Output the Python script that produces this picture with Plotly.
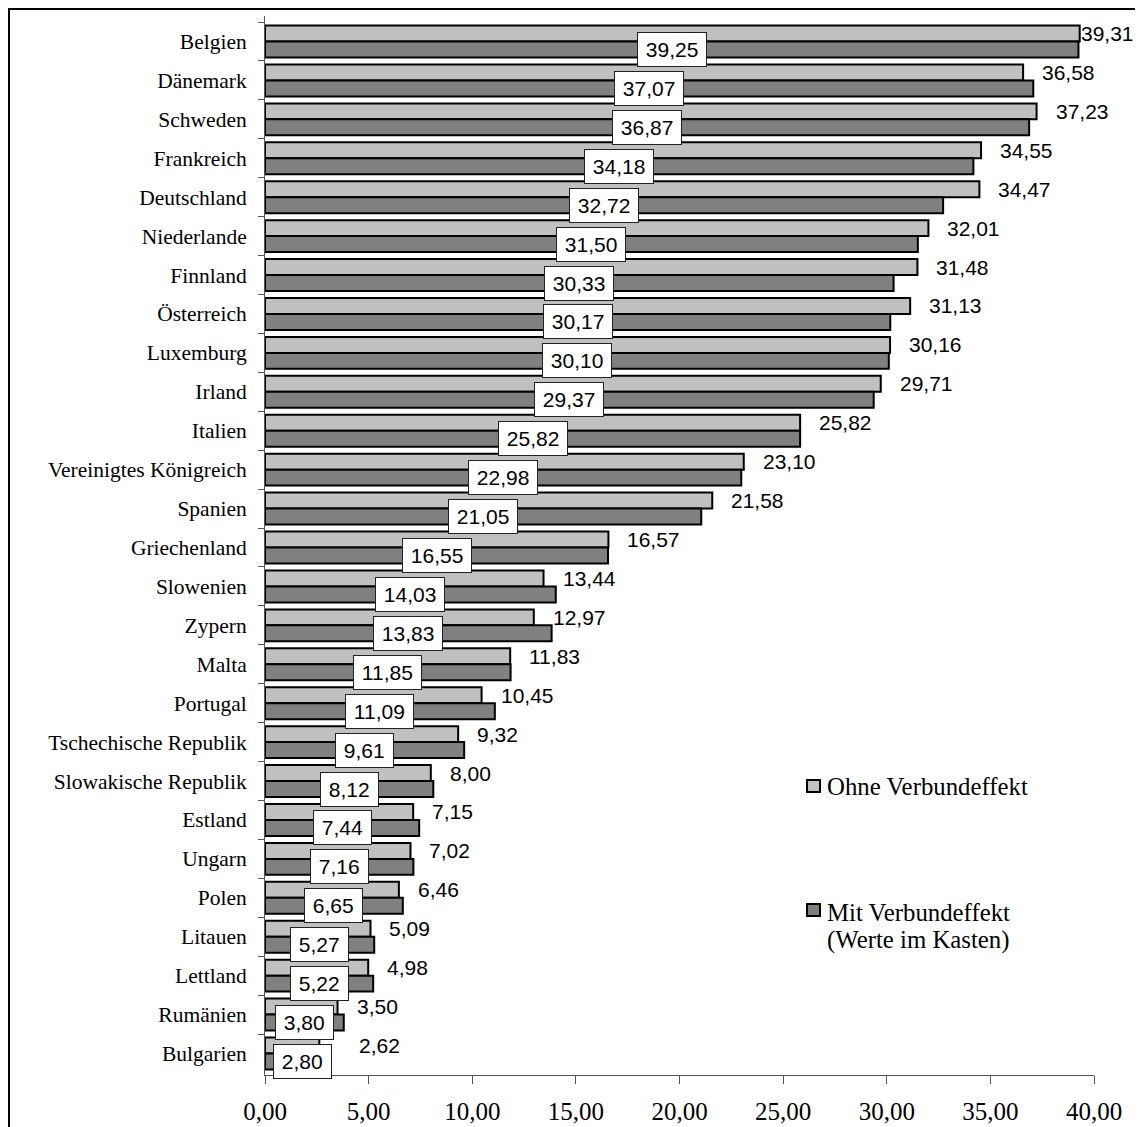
import plotly.graph_objects as go

countries = ["Belgien", "Dänemark", "Schweden", "Frankreich", "Deutschland", "Niederlande",
             "Finnland", "Österreich", "Luxemburg", "Irland", "Italien", "Vereinigtes Königreich",
             "Spanien", "Griechenland", "Slowenien", "Zypern", "Malta", "Portugal",
             "Tschechische Republik", "Slowakische Republik", "Estland", "Ungarn", "Polen",
             "Litauen", "Lettland", "Rumänien", "Bulgarien"]
ohne = [39.31, 36.58, 37.23, 34.55, 34.47, 32.01, 31.48, 31.13, 30.16, 29.71, 25.82, 23.10,
        21.58, 16.57, 13.44, 12.97, 11.83, 10.45, 9.32, 8.00, 7.15, 7.02, 6.46, 5.09, 4.98,
        3.50, 2.62]
mit = [39.25, 37.07, 36.87, 34.18, 32.72, 31.50, 30.33, 30.17, 30.10, 29.37, 25.82, 22.98,
       21.05, 16.55, 14.03, 13.83, 11.85, 11.09, 9.61, 8.12, 7.44, 7.16, 6.65, 5.27, 5.22,
       3.80, 2.80]
series_names = ["Ohne Verbundeffekt", "Mit Verbundeffekt", "(Werte im Kasten)"]
xticks = [0, 5, 10, 15, 20, 25, 30, 35, 40]

# page body has an 8px margin; lay out in window pixels and convert
OFF = 8
W, H = 1143 - 2 * OFF, 1127 - OFF
PLOT_L, PLOT_R, PLOT_T, PLOT_B = 265, 1094, 16, 1075   # window pixels
ML, MR, MT, MB = PLOT_L - OFF, W - (PLOT_R - OFF), PLOT_T - OFF, H - (PLOT_B - OFF)
PW, PH = PLOT_R - PLOT_L, PLOT_B - PLOT_T

def px_x(p):
    return (p - PLOT_L) / PW

def px_y(p):
    return (PLOT_B - p) / PH

def fmt(v):
    return f"{v:.2f}".replace(".", ",")

LIGHT = "#C0C0C0"
DARK = "#808080"
SERIF = "Liberation Serif"
SANS = "Liberation Sans"

fig = go.Figure()
fig.add_trace(go.Bar(y=countries, x=ohne, orientation="h", name=series_names[0],
                     marker=dict(color=LIGHT, line=dict(color="black", width=2)),
                     showlegend=False, hoverinfo="x+y"))
fig.add_trace(go.Bar(y=countries, x=mit, orientation="h", name=series_names[1],
                     marker=dict(color=DARK, line=dict(color="black", width=2)),
                     showlegend=False, hoverinfo="x+y"))

ann = []
ohne_shift_override = {"Belgien": -1, "Bulgarien": 38}
box_shift_override = {"Bulgarien": 8}
NB = "\u00a0"
for c, o, m in zip(countries, ohne, mit):
    ann.append(dict(x=o, y=c, xref="x", yref="y", text=fmt(o), showarrow=False,
                    xanchor="left", yanchor="middle",
                    xshift=ohne_shift_override.get(c, 17), yshift=8,
                    font=dict(family=SANS, size=21, color="black")))
    ann.append(dict(x=m / 2, y=c, xref="x", yref="y", text=NB + fmt(m) + NB, showarrow=False,
                    xanchor="center", yanchor="middle",
                    xshift=box_shift_override.get(c, 0), yshift=-8,
                    bgcolor="white", bordercolor="#222", borderwidth=1, borderpad=2,
                    height=29,
                    font=dict(family=SANS, size=21, color="black")))

# manual legend
leg_font = dict(family=SERIF, size=24.8, color="black")
ann.append(dict(x=px_x(825), y=px_y(786), xref="paper", yref="paper", text=series_names[0],
                showarrow=False, xanchor="left", yanchor="middle", font=leg_font))
ann.append(dict(x=px_x(825), y=px_y(912), xref="paper", yref="paper", text=series_names[1],
                showarrow=False, xanchor="left", yanchor="middle", font=leg_font))
ann.append(dict(x=px_x(825), y=px_y(940), xref="paper", yref="paper", text=series_names[2],
                showarrow=False, xanchor="left", yanchor="middle", font=leg_font))

shapes = [
    dict(type="rect", xref="paper", yref="paper", x0=px_x(807), x1=px_x(820),
         y0=px_y(780), y1=px_y(792), fillcolor=LIGHT, line=dict(color="black", width=2)),
    dict(type="rect", xref="paper", yref="paper", x0=px_x(807), x1=px_x(820),
         y0=px_y(904), y1=px_y(916), fillcolor=DARK, line=dict(color="black", width=2)),
    # outer chart border (left and top edges visible)
    dict(type="rect", xref="paper", yref="paper", x0=px_x(9), x1=px_x(1170),
         y0=px_y(1170), y1=px_y(9), line=dict(color="black", width=2), layer="above"),
]

fig.update_layout(
    width=W, height=H,
    margin=dict(l=ML, r=MR, t=MT, b=MB, pad=0, autoexpand=False),
    paper_bgcolor="white", plot_bgcolor="white",
    barmode="group", bargap=0.18, bargroupgap=0,
    separators=",.",
    annotations=ann, shapes=shapes,
    showlegend=False,
    xaxis=dict(range=[0, 40], tickvals=xticks, tickformat=".2f", automargin=False,
               showgrid=False, zeroline=False, showline=True, linecolor="#555", linewidth=1,
               ticks="outside", ticklen=8, tickcolor="#555", tickwidth=1,
               ticklabelstandoff=6,
               tickfont=dict(family=SERIF, size=25, color="black")),
    yaxis=dict(type="category", categoryorder="array", categoryarray=countries,
               autorange="reversed", showgrid=False, zeroline=False, automargin=False,
               showline=True, linecolor="#555", linewidth=1,
               ticks="outside", ticklen=6, tickcolor="#555", tickwidth=1,
               tickson="boundaries", ticklabelstandoff=13,
               tickfont=dict(family=SERIF, size=21.5, color="black")),
)

fig.write_html("out.html")
